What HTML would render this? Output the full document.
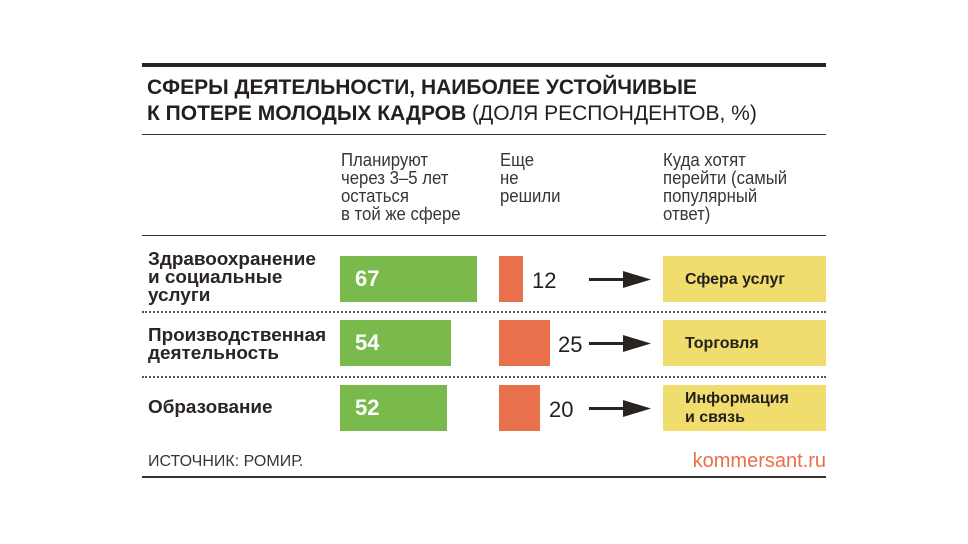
<!DOCTYPE html>
<html><head><meta charset="utf-8"><style>
body{margin:0;width:968px;height:544px;background:#fff;position:relative;overflow:hidden;font-family:"Liberation Sans Narrow","Liberation Sans",sans-serif;color:#231f1c}
div{position:absolute}
.t{font-size:21px;font-weight:bold;left:147px;white-space:nowrap}
.h{font-size:18px;line-height:18px;color:#3a3532;transform:scaleX(0.93);transform-origin:left top;white-space:nowrap}
.lab{font-size:18px;line-height:18px;left:148px;font-weight:bold;font-family:"Liberation Sans",sans-serif;color:#2a2522;transform:scaleX(1.05);transform-origin:left top;white-space:nowrap}
.g{background:#7ab94b;left:340px;color:#fff;font-weight:bold;font-size:22px;font-family:"Liberation Sans",sans-serif;box-sizing:border-box;padding-left:15px;display:flex;align-items:center}
.o{background:#e8704a;left:499px}
.n{font-size:22px;font-family:"Liberation Sans",sans-serif}
.y{background:#f1dc6e;left:663px;width:163px;font-weight:bold;font-size:16px;font-family:"Liberation Sans",sans-serif;box-sizing:border-box;padding-left:22px;display:flex;align-items:center;line-height:19px}
.dot{left:142px;width:684px;border-top:2px dotted #555}
</style></head><body>
<div style="left:142px;top:63px;width:684px;height:4px;background:#2a2420"></div>
<div class="t" style="top:76px">СФЕРЫ ДЕЯТЕЛЬНОСТИ, НАИБОЛЕЕ УСТОЙЧИВЫЕ</div>
<div class="t" style="top:102px">К ПОТЕРЕ МОЛОДЫХ КАДРОВ <span style="font-weight:normal">(ДОЛЯ РЕСПОНДЕНТОВ, %)</span></div>
<div style="left:142px;top:134px;width:684px;height:1px;background:#333"></div>
<div class="h" style="left:341px;top:151px">Планируют<br>через 3–5 лет<br>остаться<br>в той же сфере</div>
<div class="h" style="left:500px;top:151px">Еще<br>не<br>решили</div>
<div class="h" style="left:663px;top:151px">Куда хотят<br>перейти (самый<br>популярный<br>ответ)</div>
<div style="left:142px;top:235px;width:684px;height:1px;background:#333"></div>

<div class="lab" style="top:250px">Здравоохранение<br>и социальные<br>услуги</div>
<div class="g" style="top:256px;width:137px;height:46px">67</div>
<div class="o" style="top:256px;width:24px;height:46px"></div>
<div class="n" style="left:532px;top:268px">12</div>
<svg style="position:absolute;left:589px;top:270px" width="64" height="20"><rect x="0" y="8" width="36" height="3" fill="#2a2420"/><polygon points="34,1 62,9.5 34,18" fill="#2a2420"/></svg>
<div class="y" style="top:256px;height:46px">Сфера услуг</div>
<div class="dot" style="top:311px"></div>

<div class="lab" style="top:326px">Производственная<br>деятельность</div>
<div class="g" style="top:320px;width:111px;height:46px">54</div>
<div class="o" style="top:320px;width:51px;height:46px"></div>
<div class="n" style="left:558px;top:332px">25</div>
<svg style="position:absolute;left:589px;top:334px" width="64" height="20"><rect x="0" y="8" width="36" height="3" fill="#2a2420"/><polygon points="34,1 62,9.5 34,18" fill="#2a2420"/></svg>
<div class="y" style="top:320px;height:46px">Торговля</div>
<div class="dot" style="top:376px"></div>

<div class="lab" style="top:398px">Образование</div>
<div class="g" style="top:385px;width:107px;height:46px">52</div>
<div class="o" style="top:385px;width:41px;height:46px"></div>
<div class="n" style="left:549px;top:397px">20</div>
<svg style="position:absolute;left:589px;top:399px" width="64" height="20"><rect x="0" y="8" width="36" height="3" fill="#2a2420"/><polygon points="34,1 62,9.5 34,18" fill="#2a2420"/></svg>
<div class="y" style="top:385px;height:46px">Информация<br>и связь</div>

<div style="left:148px;top:453px;font-size:16px;color:#3a3532">ИСТОЧНИК: РОМИР.</div>
<div style="left:665px;top:450px;width:161px;text-align:right;font-size:20px;color:#e8704a;font-family:'Liberation Sans',sans-serif">kommersant.ru</div>
<div style="left:142px;top:476px;width:684px;height:2px;background:#333"></div>
</body></html>
